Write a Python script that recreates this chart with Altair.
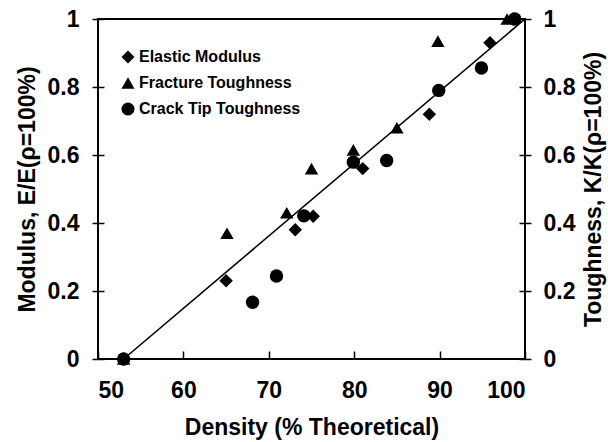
import altair as alt
import pandas as pd

# Elastic Modulus (diamonds)
em_x = [53, 65.0, 73.1, 75.2, 81.0, 88.8, 95.9, 98.6]
em_y = [0, 0.23, 0.38, 0.42, 0.56, 0.72, 0.93, 1.0]
# Fracture Toughness (triangles)
ft_x = [53, 65.1, 72.1, 75.0, 79.9, 85.0, 89.8, 97.9]
ft_y = [0, 0.37, 0.43, 0.56, 0.615, 0.68, 0.935, 1.0]
# Crack Tip Toughness (circles)
ct_x = [53, 68.1, 70.9, 74.1, 79.9, 83.8, 89.9, 94.9, 98.8]
ct_y = [0, 0.167, 0.244, 0.421, 0.579, 0.584, 0.79, 0.856, 1.0]
# fitted line
fit_x = [53, 100]
fit_y = [0, 1]

series = ["Elastic Modulus", "Fracture Toughness", "Crack Tip Toughness"]
shapes = ["diamond", "triangle-up", "circle"]
x_ticks = [50, 60, 70, 80, 90, 100]
y_ticks = [0, 0.2, 0.4, 0.6, 0.8, 1]

rows = []
for name, xs, ys in zip(series, [em_x, ft_x, ct_x], [em_y, ft_y, ct_y]):
    for a, b in zip(xs, ys):
        rows.append({"x": a, "y": b, "series": name})
pts = pd.DataFrame(rows)
line = pd.DataFrame({"x": fit_x, "y": fit_y})

FONT = "Liberation Sans"
TICK_FS = 23
TITLE_FS = 23

x_axis = alt.Axis(
    values=x_ticks, format="d", domain=False, grid=False,
    tickSize=8, offset=-8, tickColor="black", tickWidth=1.5,
    labelFont=FONT, labelFontSize=TICK_FS, labelFontWeight="bold", labelColor="black",
    labelPadding=20,
    title="Density (% Theoretical)", titleFont=FONT, titleFontSize=TITLE_FS,
    titleFontWeight="bold", titleColor="black", titlePadding=14,
)

x_enc = alt.X("x:Q", scale=alt.Scale(domain=[50, 100], nice=False), axis=x_axis)

points = alt.Chart(pts).mark_point(filled=True, color="black", opacity=1).encode(
    x=x_enc,
    y=alt.Y("y:Q", scale=alt.Scale(domain=[0, 1], nice=False),
            axis=alt.Axis(
                orient="left", values=y_ticks, format="~g", domain=False, grid=False,
                tickSize=12, offset=-6, tickColor="black", tickWidth=1.5,
                labelFont=FONT, labelFontSize=TICK_FS, labelFontWeight="bold",
                labelColor="black", labelPadding=13,
                title="Modulus, E/E(ρ=100%)", titleFont=FONT, titleFontSize=TITLE_FS,
                titleFontWeight="bold", titleColor="black", titlePadding=8,
            )),
    shape=alt.Shape("series:N",
                    scale=alt.Scale(domain=series, range=shapes),
                    legend=alt.Legend(
                        orient="none", legendX=22, legendY=30, title=None,
                        labelFont=FONT, labelFontSize=16, labelFontWeight="bold",
                        labelColor="black", labelLimit=0, symbolFillColor="black",
                        symbolStrokeColor="black", symbolSize=170,
                        symbolStrokeWidth=0, rowPadding=10, labelOffset=3,
                        padding=0,
                    )),
    size=alt.value(180),
)

fit = alt.Chart(line).mark_line(color="black", strokeWidth=1.6).encode(
    x=x_enc,
    y=alt.Y("y:Q", scale=alt.Scale(domain=[0, 1], nice=False),
            axis=alt.Axis(
                orient="right", values=y_ticks, format="~g", domain=False, grid=False,
                tickSize=12, offset=-6, tickColor="black", tickWidth=1.5,
                labelFont=FONT, labelFontSize=TICK_FS, labelFontWeight="bold",
                labelColor="black", labelPadding=12,
                title="Toughness, K/K(ρ=100%)", titleFont=FONT, titleFontSize=TITLE_FS,
                titleFontWeight="bold", titleColor="black", titlePadding=8,
                titleAngle=270, titleBaseline="top",
            )),
)

chart = alt.layer(fit, points).resolve_scale(y="independent").properties(
    width=427, height=340,
    padding={"left": 98, "top": 19, "right": 83, "bottom": 83},
    autosize=alt.AutoSizeParams(type="none"),
    background="white",
).configure_view(stroke="black", strokeWidth=2)

chart.save("out.html", embed_options={"renderer": "svg", "actions": False})
